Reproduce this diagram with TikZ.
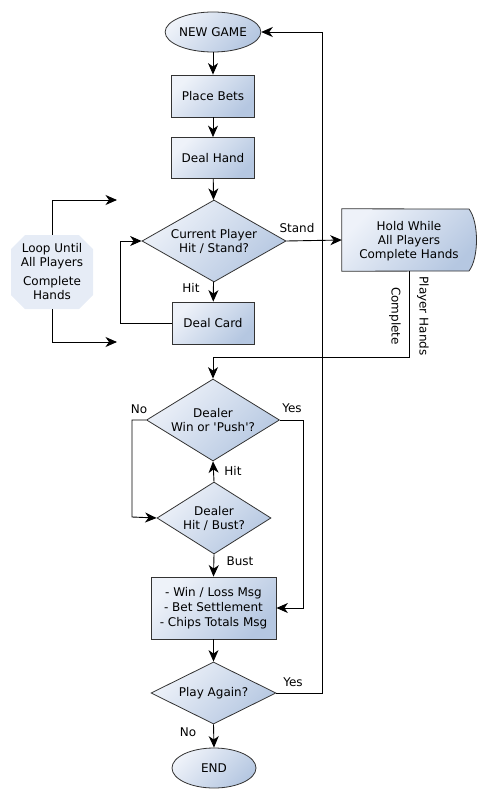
\documentclass[tikz,border=0pt]{standalone}
\usepackage{fontspec}
\setmainfont{DejaVu Sans}[Ligatures=TeXOff]
\usetikzlibrary{shapes.geometric,shapes.misc,arrows.meta,backgrounds}
\definecolor{gA}{HTML}{EEF2F9}
\definecolor{gB}{HTML}{B5C7E1}
\definecolor{bord}{HTML}{333333}
\definecolor{loopfill}{HTML}{E6ECF6}
\begin{document}
\begin{tikzpicture}[x=1pt,y=-1pt,
  font=\fontsize{12}{14}\selectfont,
  grad/.style={top color=gA, bottom color=gB, shading angle=45},
  box/.style={rectangle, draw=bord, line width=0.8pt, grad, inner sep=0pt, align=center},
  term/.style={ellipse, draw=bord, line width=0.8pt, grad, inner sep=0pt},
  dec/.style={diamond, draw=bord, line width=0.8pt, grad, inner sep=0pt, align=center},
  conn/.style={line width=0.9pt, -{Stealth[length=11.5pt,width=10pt,inset=3.5pt]}},
  lbl/.style={inner sep=0pt}
]
\useasboundingbox (0,0) rectangle (486,800);

% nodes
\node[term, minimum width=82pt, minimum height=40pt] (new) at (213,32) {NEW GAME};
\node[box, minimum width=83pt, minimum height=42pt] (bets) at (213,96) {Place Bets};
\node[box, minimum width=83pt, minimum height=41pt] (hand) at (213,158) {Deal Hand};
\node[dec, minimum width=144pt, minimum height=82pt, aspect=1.75] (cur) at (214,241) {Current Player\\Hit / Stand?};
\node[box, minimum width=82pt, minimum height=42pt] (card) at (213,323) {Deal Card};
\node[rectangle, minimum width=130pt, minimum height=62pt, inner sep=0pt, align=center] (hold) at (407,240) {};
\node[lbl, align=center] (holdtxt) at (409,241) {Hold While\\All Players\\Complete Hands};
\begin{scope}[on background layer]
  \shade[grad, draw=bord, line width=0.8pt]
    (hold.north west) -- (469,209) .. controls (479,222) and (479,258) .. (469,271) -- (hold.south west) -- cycle;
\end{scope}
\node[chamfered rectangle, chamfered rectangle xsep=7pt, chamfered rectangle ysep=7pt, fill=loopfill, minimum width=82pt, minimum height=74pt, inner sep=0pt, align=center] (loop) at (52,272) {Loop Until\\All Players\\[5pt]Complete\\Hands};

\node[dec, minimum width=133pt, minimum height=82pt, aspect=1.62] (win) at (213,420) {Dealer\\Win or 'Push'?};
\node[dec, minimum width=114pt, minimum height=72pt, aspect=1.58] (hit) at (214,518) {Dealer\\Hit / Bust?};
\node[box, minimum width=125pt, minimum height=62pt, font=\fontsize{12}{14.8}\selectfont] (msg) at (213.5,608) {- Win / Loss Msg\\- Bet Settlement\\- Chips Totals Msg};
\node[dec, minimum width=125pt, minimum height=62pt, aspect=2] (again) at (213.5,693) {Play Again?};
\node[term, minimum width=84pt, minimum height=40pt] (end) at (214,768) {END};

% coordinates
\coordinate (la) at (117,200);
\coordinate (lb) at (117,342);

% connectors
\draw[conn] (new) -- (bets);
\draw[conn] (bets) -- (hand);
\draw[conn] (hand) -- (cur);
\draw[conn] (cur) -- (card);
\node[lbl] (lhit) at (191,288) {Hit};
\draw[conn] (card.west) -- (120,323) -- (120,241) -- (cur.west);
\draw[conn] (cur.east) -- (hold.west);
\node[lbl] (lstand) at (297,228) {Stand};
\draw[conn] (409,271) -- (409,357) -- (213,357) -- (win.north);
\node[lbl, rotate=-90, align=center, font=\fontsize{12}{28}\selectfont] (lph) at (409,316) {Player Hands\\Complete};
\draw[conn] (loop.north) -- (52,200) -- (la);
\draw[conn] (loop.south) -- (52,342) -- (lb);

\draw[conn] (win.west) -- (132,420) -- (132,517) -- (hit.west);
\node[lbl] (lno1) at (139,409) {No};
\draw[conn] (win.east) -- (303,420) -- (303,608) -- (msg.east);
\node[lbl] (lyes1) at (292,408) {Yes};
\draw[conn] (hit.north) -- (win.south);
\node[lbl] (lhit2) at (233,471) {Hit};
\draw[conn] (hit.south) -- (msg.north);
\node[lbl] (lbust) at (240,561) {Bust};
\draw[conn] (msg.south) -- (again.north);
\draw[conn] (again.east) -- (322,693) -- (322,32) -- (new.east);
\node[lbl] (lyes2) at (293,682) {Yes};
\draw[conn] (again.south) -- (end.north);
\node[lbl] (lno2) at (188,732) {No};
\end{tikzpicture}
\end{document}
